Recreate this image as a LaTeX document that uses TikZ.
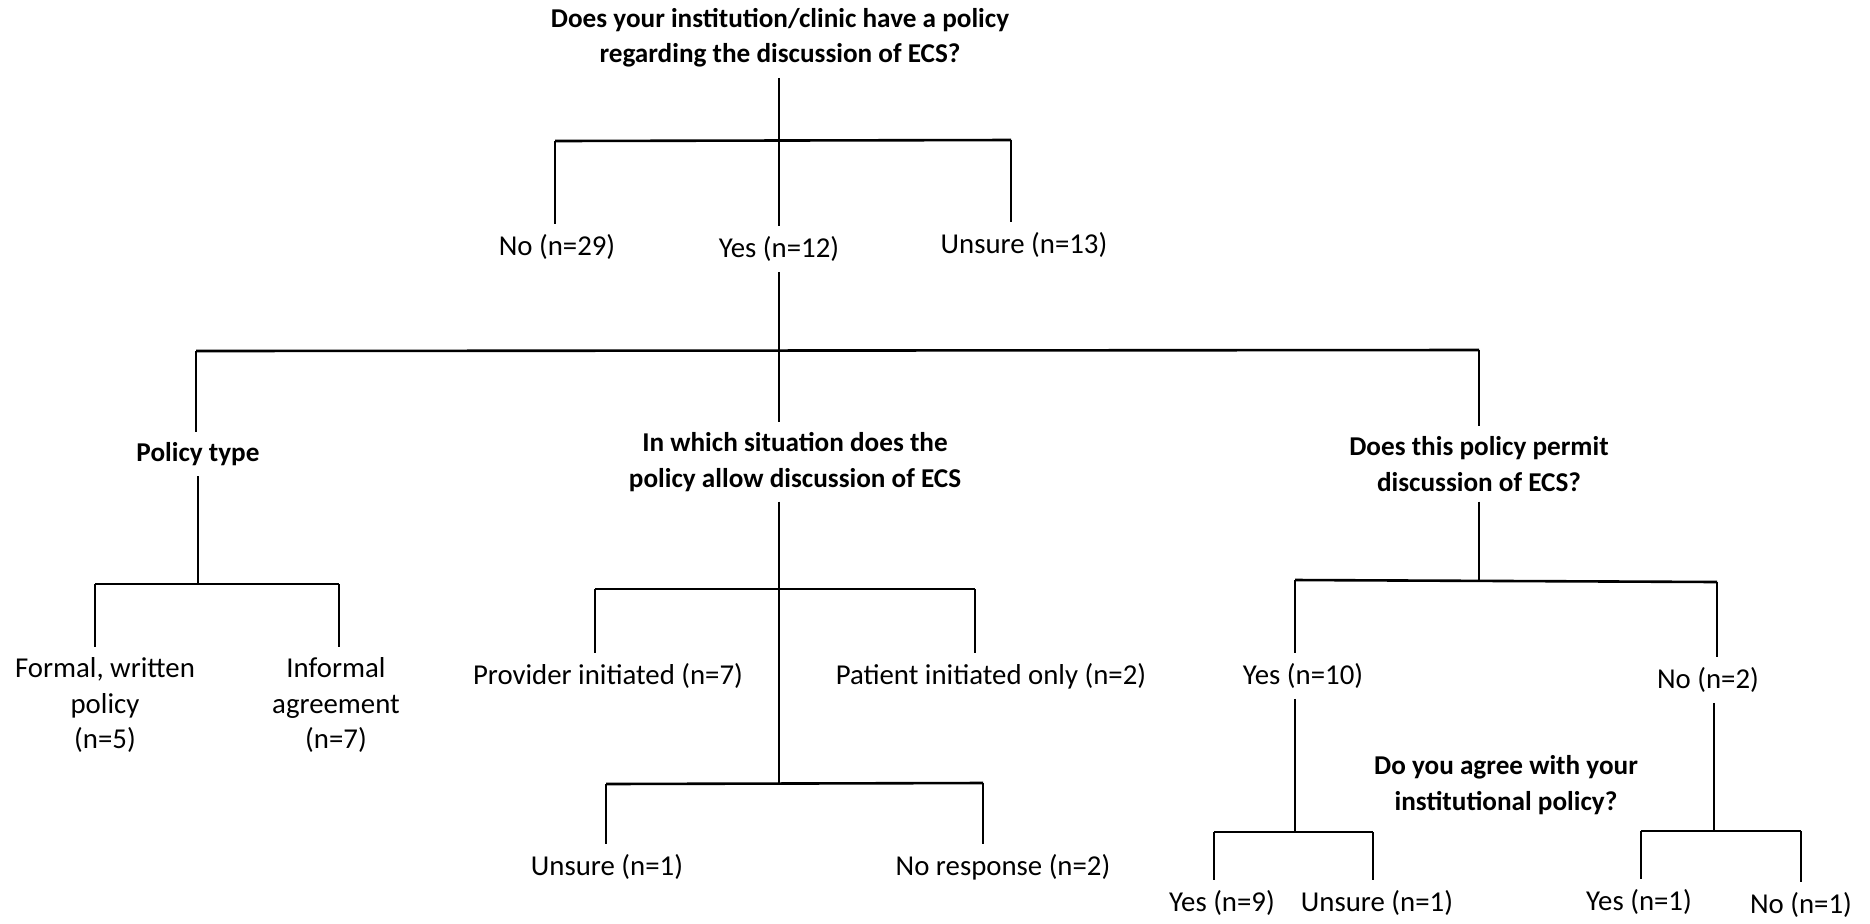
\documentclass[tikz,border=0pt]{standalone}
\usepackage{fontspec}
\setmainfont{Carlito}
\begin{document}
\begin{tikzpicture}[x=0.5pt,y=-0.5pt,
  lbl/.style={inner xsep=0pt,inner ysep=5pt,align=center,font=\fontsize{14.4}{17.9}\selectfont},
  qst/.style={lbl,font=\fontsize{13.6}{17.6}\selectfont\bfseries},
  stem/.style={line width=0.6pt,black},
  bar/.style={line width=1.3pt,black}]
\useasboundingbox (0,0) rectangle (1870,923);
% nodes
\node[qst] (q1) at (780,38) {Does your institution/clinic have a policy\\regarding the discussion of ECS?};
\node[lbl] (no) at (557,247) {No (n=29)};
\node[lbl] (yes) at (779,249) {Yes (n=12)};
\node[lbl] (uns) at (1024,245) {Unsure (n=13)};
\node[qst] (pt) at (198,454) {Policy type};
\node[qst] (sit) at (795,462) {In which situation does the\\policy allow discussion of ECS};
\node[qst] (perm) at (1479,464) {Does this policy permit\\discussion of ECS?};
\node[lbl] (formal) at (105,705) {Formal, written\\policy\\(n=5)};
\node[lbl] (informal) at (336,705) {Informal\\agreement\\(n=7)};
\node[lbl] (prov) at (608,676) {Provider initiated (n=7)};
\node[lbl] (pat) at (991,676) {Patient initiated only (n=2)};
\node[lbl] (uns1) at (607,867) {Unsure (n=1)};
\node[lbl] (nores) at (1003,867) {No response (n=2)};
\node[lbl] (y10) at (1303,676) {Yes (n=10)};
\node[lbl] (n2) at (1708,680) {No (n=2)};
\node[qst] (agree) at (1506,785) {Do you agree with your\\institutional policy?};
\node[lbl] (y9) at (1222,903) {Yes (n=9)};
\node[lbl] (uns2) at (1377,903) {Unsure (n=1)};
\node[lbl] (y1) at (1639,902) {Yes (n=1)};
\node[lbl] (no1) at (1801,905) {No (n=1)};
% junction coordinates
\coordinate (b1l) at (555,141); \coordinate (b1r) at (1011,140);
\coordinate (b2l) at (196,351); \coordinate (b2r) at (1479,350);
\coordinate (b3l) at (95,584); \coordinate (b3r) at (339,584);
\coordinate (b4l) at (595,589); \coordinate (b4r) at (975,589);
\coordinate (b5l) at (606,784); \coordinate (b5r) at (983,783);
\coordinate (b6l) at (1295,580); \coordinate (b6r) at (1717,582);
\coordinate (b7l) at (1214,832); \coordinate (b7r) at (1373,832);
\coordinate (b8l) at (1641,831); \coordinate (b8r) at (1801,831);
% level 1
\draw[stem] (q1.south -| yes) -- (yes.north);
\draw[bar] (b1l) -- (b1r);
\draw[stem] (b1l) -- (b1l |- no.north);
\draw[stem] (b1r) -- (b1r |- uns.north);
% level 2
\draw[stem] (yes.south) -- (yes.south |- sit.north);
\draw[bar] (b2l) -- (b2r);
\draw[stem] (b2l) -- (b2l |- pt.north);
\draw[stem] (b2r) -- (b2r |- perm.north);
% policy type
\draw[stem] (pt.south) -- (pt.south |- b3l);
\draw[bar] (b3l) -- (b3r);
\draw[stem] (b3l) -- (b3l |- formal.north);
\draw[stem] (b3r) -- (b3r |- informal.north);
% situation
\draw[stem] (sit.south -| yes) -- (yes |- b5l);
\draw[bar] (b4l) -- (b4r);
\draw[stem] (b4l) -- (b4l |- prov.north);
\draw[stem] (b4r) -- (b4r |- pat.north);
\draw[bar] (b5l) -- (b5r);
\draw[stem] (b5l) -- (b5l |- uns1.north);
\draw[stem] (b5r) -- (b5r |- nores.north);
% permit
\draw[stem] (perm.south) -- (perm.south |- b6l);
\draw[bar] (b6l) -- (b6r);
\draw[stem] (b6l) -- (b6l |- y10.north);
\draw[stem] (b6r) -- (b6r |- n2.north);
\draw[stem] (b6l |- y10.south) -- (b6l |- b7l);
\draw[bar] (b7l) -- (b7r);
\draw[stem] (b7l) -- (b7l |- y9.north);
\draw[stem] (b7r) -- (b7r |- uns2.north);
\draw[stem] (1714,0 |- n2.south) -- (1714,831);
\draw[bar] (b8l) -- (b8r);
\draw[stem] (b8l) -- (b8l |- y1.north);
\draw[stem] (b8r) -- (b8r |- no1.north);
\end{tikzpicture}
\end{document}
